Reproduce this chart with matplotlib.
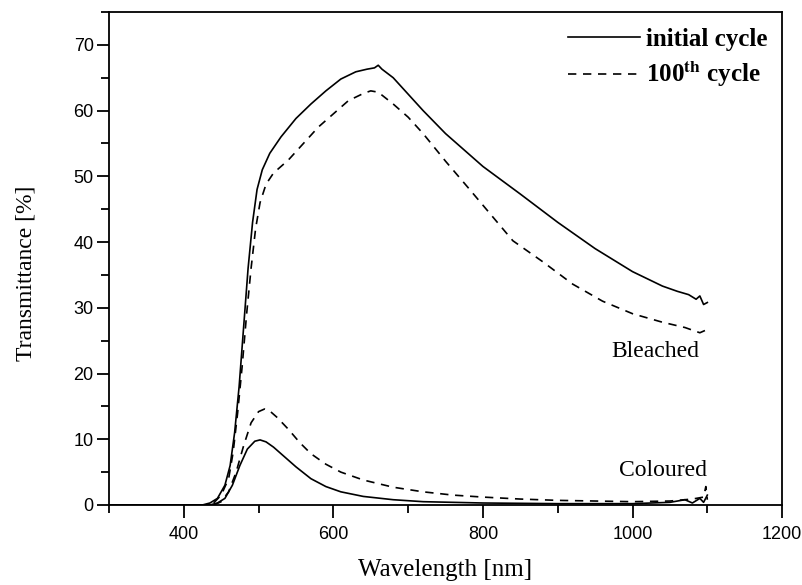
import matplotlib
matplotlib.use("Agg")
import matplotlib.pyplot as plt
from matplotlib.ticker import MultipleLocator

plt.rcParams['mathtext.fontset'] = 'stix'

# bleached state, initial cycle
bl_init_wl = [300, 400, 425, 435, 445, 455, 462, 468, 474, 480, 486, 492, 498, 505, 515,
              530, 550, 570, 590, 610, 630, 645, 655, 660, 665, 680, 700, 720, 750, 780,
              800, 850, 900, 950, 1000, 1040, 1060, 1075, 1085, 1090, 1095, 1100]
bl_init_t = [0, 0, 0, 0.3, 1, 3, 6, 11, 18, 27, 36, 43, 48, 51, 53.5,
             56, 58.8, 61, 63, 64.8, 65.9, 66.3, 66.5, 66.9, 66.3, 65, 62.5, 60, 56.5, 53.5,
             51.5, 47.3, 43, 39, 35.5, 33.3, 32.5, 32, 31.3, 31.8, 30.5, 30.8]

# bleached state, 100th cycle
bl_100_wl = [300, 430, 440, 450, 460, 466, 472, 478, 484, 490, 496, 502, 510, 520, 540,
             560, 580, 600, 620, 640, 650, 660, 680, 700, 720, 750, 780, 800, 840, 880,
             920, 960, 1000, 1040, 1070, 1090, 1100]
bl_100_t = [0, 0, 0.3, 1.5, 4, 8, 14, 21, 29, 36, 42, 46, 48.8, 50.5, 52.5,
            55, 57.5, 59.5, 61.5, 62.6, 63, 62.8, 61, 59, 56.5, 52.3, 48.3, 45.6, 40.2, 37,
            33.6, 31, 29.1, 27.8, 27, 26.2, 26.7]

# coloured state, initial cycle
col_init_wl = [300, 435, 445, 455, 465, 475, 485, 495, 502, 510, 520, 535, 550, 570, 590,
               610, 640, 680, 720, 800, 900, 1000, 1050, 1070, 1080, 1090, 1095, 1100]
col_init_t = [0, 0, 0.3, 1, 3, 6, 8.5, 9.7, 9.9, 9.6, 8.8, 7.3, 5.8, 4, 2.8,
              2, 1.3, 0.8, 0.5, 0.3, 0.2, 0.2, 0.4, 0.8, 0.3, 1.0, 0.4, 1.5]

# coloured state, 100th cycle
col_100_wl = [300, 440, 450, 460, 470, 480, 490, 500, 508, 515, 525, 540, 555, 570, 590,
              610, 640, 680, 720, 760, 800, 850, 900, 950, 1000, 1050, 1080, 1095, 1098, 1100]
col_100_t = [0, 0, 0.5, 2, 5, 9, 12.5, 14.2, 14.6, 14.3, 13.3, 11.5, 9.5, 7.8, 6.2,
             5, 3.8, 2.7, 2, 1.5, 1.2, 0.9, 0.7, 0.6, 0.5, 0.6, 0.9, 1.2, 2.8, 0.8]

fig = plt.figure(figsize=(8.03, 5.85), dpi=100)
ax = fig.add_axes([0.1357, 0.1368, 0.8383, 0.8427])

dash = (0, (5, 4))
ax.plot(bl_init_wl, bl_init_t, color='black', lw=1.2, label='initial cycle')
ax.plot(bl_100_wl, bl_100_t, color='black', lw=1.2, linestyle=dash,
        label=r'100$^{\mathbf{th}}$ cycle')
ax.plot(col_init_wl, col_init_t, color='black', lw=1.2)
ax.plot(col_100_wl, col_100_t, color='black', lw=1.2, linestyle=dash)

ax.set_xlim(300, 1200)
ax.set_ylim(0, 75)
ax.xaxis.set_major_locator(MultipleLocator(200))
ax.xaxis.set_minor_locator(MultipleLocator(100))
ax.yaxis.set_major_locator(MultipleLocator(10))
ax.yaxis.set_minor_locator(MultipleLocator(5))
ax.tick_params(which='major', direction='out', length=9, width=1.3, pad=6,
               labelsize=13, labelfontfamily='Liberation Sans')
ax.tick_params(which='minor', direction='out', length=6, width=1.3)
ax.tick_params(axis='y', which='major', pad=2)
for s in ax.spines.values():
    s.set_linewidth(1.3)

ax.set_xlabel('Wavelength [nm]', family='Liberation Serif', fontsize=18, labelpad=12)
ax.set_ylabel('Transmittance [%]', family='Liberation Serif', fontsize=17)
ax.yaxis.set_label_coords(-0.107, 0.47)

ax.text(1030, 23.3, 'Bleached', family='Liberation Serif', fontsize=17,
        ha='center', va='center')
ax.text(1041, 5.3, 'Coloured', family='Liberation Serif', fontsize=17,
        ha='center', va='center')

leg = ax.legend(loc='upper right', frameon=False, handlelength=2.9, handletextpad=0.25,
                bbox_to_anchor=(768 / 803, 1 - 28 / 585), bbox_transform=fig.transFigure,
                borderaxespad=0, borderpad=0, labelspacing=0.35,
                prop={'family': 'Liberation Serif', 'weight': 'bold', 'size': 18})

fig.savefig('out.png', dpi=100)
